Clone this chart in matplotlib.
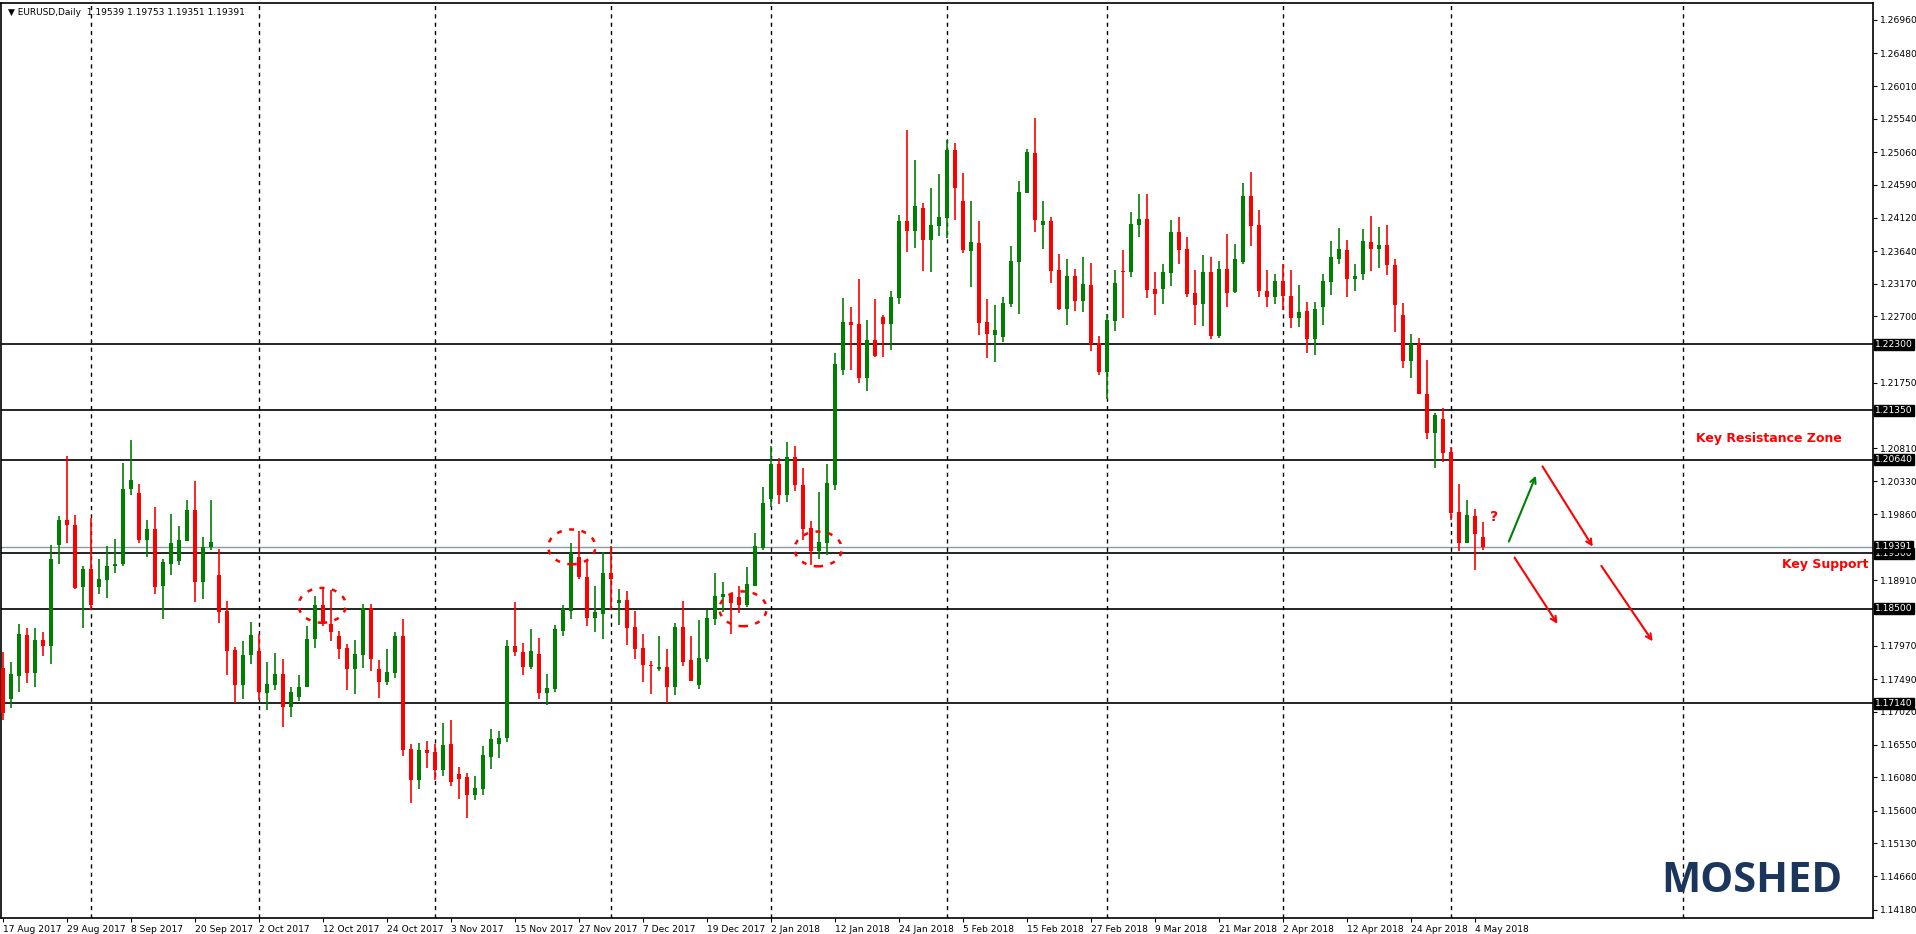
import matplotlib
matplotlib.use('Agg')
import matplotlib.pyplot as plt
from matplotlib.patches import Ellipse

# daily EURUSD candles, 17 Aug 2017 .. 7 May 2018
opens = [1.1765, 1.1720, 1.1754, 1.1812, 1.1758, 1.1805, 1.1796, 1.1942, 1.1978, 1.1971,
         1.1882, 1.1907, 1.1882, 1.1892, 1.1911, 1.1915, 1.2022, 1.2016, 1.1949, 1.1965,
         1.1883, 1.1915, 1.1919, 1.1948, 1.1992, 1.1889, 1.1939, 1.1899, 1.1847, 1.1791,
         1.1741, 1.1783, 1.1790, 1.1729, 1.1740, 1.1757, 1.1709, 1.1724, 1.1737, 1.1806,
         1.1856, 1.1828, 1.1811, 1.1794, 1.1764, 1.1784, 1.1851, 1.1764, 1.1745, 1.1758,
         1.1811, 1.1649, 1.1604, 1.1647, 1.1644, 1.1619, 1.1656, 1.1613, 1.1608, 1.1582,
         1.1591, 1.1637, 1.1656, 1.1664, 1.1797, 1.1788, 1.1766, 1.1785, 1.1729, 1.1735,
         1.1818, 1.1847, 1.1925, 1.1896, 1.1837, 1.1843, 1.1902, 1.1858, 1.1863, 1.1824,
         1.1794, 1.1770, 1.1763, 1.1766, 1.1738, 1.1824, 1.1776, 1.1741, 1.1778, 1.1835,
         1.1867, 1.1871, 1.1867, 1.1855, 1.1883, 1.1937, 1.2008, 1.2058, 1.2013, 1.2068,
         1.2028, 1.1966, 1.1933, 1.1944, 1.2028, 1.2193, 1.2262, 1.2259, 1.2182, 1.2236,
         1.2269, 1.2259, 1.2296, 1.2407, 1.2393, 1.2426, 1.2380, 1.2400, 1.2411, 1.2509,
         1.2436, 1.2364, 1.2376, 1.2262, 1.2243, 1.2241, 1.2288, 1.2348, 1.2447, 1.2505,
         1.2402, 1.2407, 1.2337, 1.2281, 1.2328, 1.2292, 1.2315, 1.2232, 1.2190, 1.2263,
         1.2335, 1.2334, 1.2402, 1.2410, 1.2310, 1.2310, 1.2333, 1.2391, 1.2367, 1.2304,
         1.2288, 1.2334, 1.2242, 1.2338, 1.2305, 1.2348, 1.2443, 1.2401, 1.2307, 1.2298,
         1.2321, 1.2299, 1.2268, 1.2278, 1.2238, 1.2284, 1.2319, 1.2353, 1.2365, 1.2324,
         1.2331, 1.2377, 1.2367, 1.2373, 1.2344, 1.2272, 1.2206, 1.2230, 1.2159, 1.2102,
         1.2123, 1.2075, 1.1989, 1.1945, 1.1983, 1.19539]
highs = [1.1788, 1.1773, 1.1828, 1.1823, 1.1822, 1.1817, 1.1942, 1.1983, 1.2070, 1.1985,
         1.1912, 1.1980, 1.1922, 1.1940, 1.1951, 1.2060, 1.2093, 1.2030, 1.1978, 1.1996,
         1.1922, 1.1986, 1.1969, 1.2007, 1.2034, 1.1953, 1.2006, 1.1936, 1.1861, 1.1795,
         1.1804, 1.1831, 1.1814, 1.1774, 1.1787, 1.1778, 1.1738, 1.1755, 1.1826, 1.1869,
         1.1879, 1.1877, 1.1818, 1.1800, 1.1805, 1.1857, 1.1857, 1.1776, 1.1792, 1.1817,
         1.1835, 1.1656, 1.1657, 1.1660, 1.1656, 1.1686, 1.1690, 1.1623, 1.1614, 1.1610,
         1.1653, 1.1677, 1.1674, 1.1805, 1.1860, 1.1801, 1.1821, 1.1808, 1.1756, 1.1827,
         1.1856, 1.1945, 1.1962, 1.1920, 1.1883, 1.1932, 1.1940, 1.1879, 1.1876, 1.1847,
         1.1814, 1.1775, 1.1811, 1.1792, 1.1830, 1.1861, 1.1811, 1.1834, 1.1848, 1.1901,
         1.1888, 1.1873, 1.1883, 1.1910, 1.1959, 1.2025, 1.2084, 1.2067, 1.2090, 1.2084,
         1.2052, 1.1976, 1.2018, 1.2058, 1.2217, 1.2296, 1.2284, 1.2324, 1.2265, 1.2295,
         1.2272, 1.2307, 1.2416, 1.2538, 1.2495, 1.2433, 1.2455, 1.2475, 1.2524, 1.2519,
         1.2476, 1.2436, 1.2407, 1.2295, 1.2287, 1.2298, 1.2371, 1.2465, 1.2511, 1.2555,
         1.2436, 1.2413, 1.2360, 1.2353, 1.2338, 1.2356, 1.2347, 1.2242, 1.2274, 1.2337,
         1.2366, 1.2420, 1.2446, 1.2446, 1.2334, 1.2345, 1.2409, 1.2413, 1.2384, 1.2337,
         1.2358, 1.2355, 1.2350, 1.2389, 1.2374, 1.2462, 1.2478, 1.2423, 1.2337, 1.2331,
         1.2345, 1.2337, 1.2315, 1.2291, 1.2291, 1.2331, 1.2378, 1.2397, 1.2380, 1.2345,
         1.2396, 1.2414, 1.2399, 1.2401, 1.2353, 1.2289, 1.2245, 1.2239, 1.2208, 1.2132,
         1.2138, 1.2083, 1.2029, 1.2006, 1.1993, 1.19753]
lows = [1.1690, 1.1707, 1.1730, 1.1744, 1.1738, 1.1782, 1.1771, 1.1915, 1.1945, 1.1879,
        1.1822, 1.1848, 1.1872, 1.1866, 1.1902, 1.1912, 1.2014, 1.1945, 1.1925, 1.1872,
        1.1836, 1.1899, 1.1913, 1.1948, 1.1860, 1.1864, 1.1934, 1.1830, 1.1755, 1.1715,
        1.1720, 1.1771, 1.1719, 1.1705, 1.1734, 1.1680, 1.1695, 1.1718, 1.1737, 1.1793,
        1.1826, 1.1804, 1.1778, 1.1733, 1.1728, 1.1765, 1.1761, 1.1722, 1.1741, 1.1751,
        1.1638, 1.1571, 1.1591, 1.1621, 1.1604, 1.1610, 1.1595, 1.1577, 1.1549, 1.1575,
        1.1582, 1.1620, 1.1636, 1.1659, 1.1782, 1.1755, 1.1763, 1.1721, 1.1712, 1.1730,
        1.1811, 1.1835, 1.1893, 1.1825, 1.1816, 1.1807, 1.1848, 1.1827, 1.1798, 1.1778,
        1.1745, 1.1727, 1.1761, 1.1715, 1.1726, 1.1768, 1.1747, 1.1735, 1.1774, 1.1827,
        1.1846, 1.1814, 1.1844, 1.1852, 1.1883, 1.1934, 1.1997, 1.2000, 1.2003, 1.2019,
        1.1949, 1.1913, 1.1921, 1.1927, 1.2020, 1.2186, 1.2193, 1.2174, 1.2163, 1.2212,
        1.2212, 1.2222, 1.2288, 1.2363, 1.2368, 1.2335, 1.2334, 1.2385, 1.2383, 1.2408,
        1.2361, 1.2313, 1.2243, 1.2210, 1.2205, 1.2233, 1.2284, 1.2274, 1.2447, 1.2391,
        1.2367, 1.2318, 1.2279, 1.2258, 1.2278, 1.2276, 1.2220, 1.2186, 1.2151, 1.2249,
        1.2268, 1.2327, 1.2384, 1.2297, 1.2272, 1.2288, 1.2314, 1.2345, 1.2298, 1.2258,
        1.2256, 1.2238, 1.2239, 1.2284, 1.2304, 1.2345, 1.2371, 1.2298, 1.2283, 1.2288,
        1.2279, 1.2253, 1.2255, 1.2217, 1.2214, 1.2258, 1.2301, 1.2346, 1.2298, 1.2306,
        1.2323, 1.2336, 1.2340, 1.2329, 1.2248, 1.2196, 1.2181, 1.2158, 1.2094, 1.2053,
        1.2061, 1.1977, 1.1933, 1.1944, 1.1906, 1.19351]
closes = [1.1700, 1.1756, 1.1814, 1.1758, 1.1805, 1.1796, 1.1922, 1.1978, 1.1970, 1.1880,
          1.1907, 1.1856, 1.1893, 1.1912, 1.1915, 1.2022, 1.2035, 1.1949, 1.1965, 1.1882,
          1.1917, 1.1945, 1.1949, 1.1992, 1.1889, 1.1939, 1.1946, 1.1846, 1.1790, 1.1741,
          1.1784, 1.1813, 1.1730, 1.1742, 1.1757, 1.1709, 1.1731, 1.1738, 1.1807, 1.1856,
          1.1828, 1.1817, 1.1792, 1.1764, 1.1785, 1.1851, 1.1778, 1.1745, 1.1759, 1.1811,
          1.1647, 1.1604, 1.1647, 1.1643, 1.1619, 1.1654, 1.1601, 1.1605, 1.1582, 1.1593,
          1.1640, 1.1663, 1.1664, 1.1797, 1.1788, 1.1766, 1.1789, 1.1729, 1.1736, 1.1821,
          1.1850, 1.1930, 1.1896, 1.1837, 1.1846, 1.1902, 1.1893, 1.1863, 1.1823, 1.1792,
          1.1769, 1.1768, 1.1766, 1.1738, 1.1824, 1.1774, 1.1747, 1.1779, 1.1837, 1.1868,
          1.1871, 1.1858, 1.1855, 1.1886, 1.1940, 1.2002, 1.2058, 1.2013, 1.2068, 1.2028,
          1.1965, 1.1933, 1.1946, 1.2031, 1.2202, 1.2262, 1.2258, 1.2182, 1.2236, 1.2213,
          1.2259, 1.2298, 1.2407, 1.2393, 1.2429, 1.2380, 1.2401, 1.2413, 1.2509, 1.2454,
          1.2365, 1.2377, 1.2261, 1.2245, 1.2251, 1.2289, 1.2350, 1.2449, 1.2506, 1.2409,
          1.2407, 1.2335, 1.2281, 1.2328, 1.2292, 1.2317, 1.2231, 1.2190, 1.2265, 1.2318,
          1.2334, 1.2403, 1.2410, 1.2308, 1.2302, 1.2334, 1.2391, 1.2366, 1.2302, 1.2287,
          1.2334, 1.2242, 1.2338, 1.2304, 1.2353, 1.2443, 1.2400, 1.2306, 1.2298, 1.2321,
          1.2300, 1.2268, 1.2276, 1.2238, 1.2281, 1.2321, 1.2355, 1.2367, 1.2324, 1.2328,
          1.2378, 1.2367, 1.2373, 1.2344, 1.2287, 1.2206, 1.2230, 1.2159, 1.2102, 1.2128,
          1.2074, 1.1988, 1.1945, 1.1985, 1.1957, 1.19391]

date_labels = ['17 Aug 2017', '29 Aug 2017', '8 Sep 2017', '20 Sep 2017', '2 Oct 2017',
               '12 Oct 2017', '24 Oct 2017', '3 Nov 2017', '15 Nov 2017', '27 Nov 2017',
               '7 Dec 2017', '19 Dec 2017', '2 Jan 2018', '12 Jan 2018', '24 Jan 2018',
               '5 Feb 2018', '15 Feb 2018', '27 Feb 2018', '9 Mar 2018', '21 Mar 2018',
               '2 Apr 2018', '12 Apr 2018', '24 Apr 2018', '4 May 2018']
month_starts = [11, 32, 54, 76, 96, 118, 138, 160, 181, 210]
price_ticks = [1.26960, 1.26480, 1.26010, 1.25540, 1.25060, 1.24590, 1.24120, 1.23640,
               1.23170, 1.22700, 1.21750, 1.20810, 1.20330, 1.19860,
               1.18910, 1.17970, 1.17490, 1.17020, 1.16550, 1.16080,
               1.15600, 1.15130, 1.14660, 1.14180]
levels = [1.22300, 1.21350, 1.20640, 1.19300, 1.18500, 1.17140]
last_price = 1.19391

GREEN = '#008000'
RED = '#ff0000'

fig = plt.figure(figsize=(19.16, 9.34), dpi=100)
ax = fig.add_axes([1 / 1916, 16 / 934, 1872 / 1916, 915 / 934])
ax.set_xlim(-0.25, 233.75)
ax.set_ylim(1.14058, 1.27204)

for lv in levels:
    ax.axhline(lv, color='black', lw=1.2, zorder=1)
ax.axhline(last_price, color='#8899aa', lw=1.0, zorder=1)
for m in month_starts:
    ax.axvline(m, color='black', lw=1.0, ls=(0, (3, 3)), zorder=1)

min_h = 0.00015
for i in range(len(opens)):
    o, h, l, c = opens[i], highs[i], lows[i], closes[i]
    col = GREEN if c >= o else RED
    ax.vlines(i, l, h, color=col, lw=1.2, zorder=2)
    bot = min(o, c)
    ht = max(abs(c - o), min_h)
    ax.bar(i, ht, bottom=bot, width=0.62, color=col, lw=0, zorder=3)

# dashed red circles
for cx, cy in [(39.9, 1.1855), (71.1, 1.1939), (92.5, 1.1850), (101.9, 1.1936)]:
    ax.add_patch(Ellipse((cx, cy), 5.9, 0.0050, fill=False, ec=RED, lw=1.8,
                         ls=(0, (2, 3)), zorder=4))

# scenario arrows
arrows = [((188.1, 1.1943), (191.75, 1.2045), GREEN),
          ((192.25, 1.2058), (198.9, 1.1936), RED),
          ((188.75, 1.1927), (194.5, 1.1825), RED),
          ((199.6, 1.1915), (206.4, 1.1800), RED)]
for (x0, y0), (x1, y1), col in arrows:
    ax.annotate('', xy=(x1, y1), xytext=(x0, y0),
                arrowprops=dict(arrowstyle='->', color=col, lw=1.5, mutation_scale=10))
ax.text(186.4, 1.1982, '?', color=RED, fontsize=10, fontweight='bold', ha='center', va='center')

ax.text(229.8, 1.2095, 'Key Resistance Zone', color=RED, fontsize=9, fontweight='bold',
        va='center', ha='right')
ax.text(233.2, 1.1913, 'Key Support', color=RED, fontsize=9, fontweight='bold',
        va='center', ha='right')
ax.text(229.9, 1.1458, 'MOSHED', color='#1b365d', fontsize=30, fontweight='bold',
        va='center', ha='right', family='Open Sans')

ax.text(0.004, 0.995, '\u25bc EURUSD,Daily  1.19539 1.19753 1.19351 1.19391',
        transform=ax.transAxes, fontsize=6.5, va='top', ha='left')

ax.yaxis.tick_right()
ax.set_yticks(price_ticks)
ax.set_yticklabels(['%.5f' % p for p in price_ticks])
ax.tick_params(axis='y', labelsize=6.6, length=3, pad=2)
for lv in levels + [last_price]:
    ax.text(1.001, lv, '%.5f' % lv, transform=ax.get_yaxis_transform(), fontsize=6.6,
            color='white', va='center', ha='left',
            bbox=dict(boxstyle='square,pad=0.12', fc='black', ec='black'), zorder=5)

ax.set_xticks(range(0, 8 * len(date_labels), 8))
ax.set_xticklabels(date_labels, ha='left')
ax.tick_params(axis='x', labelsize=6.6, length=3, pad=2)
for sp in ax.spines.values():
    sp.set_linewidth(1.2)

fig.savefig('out.png', dpi=100)
